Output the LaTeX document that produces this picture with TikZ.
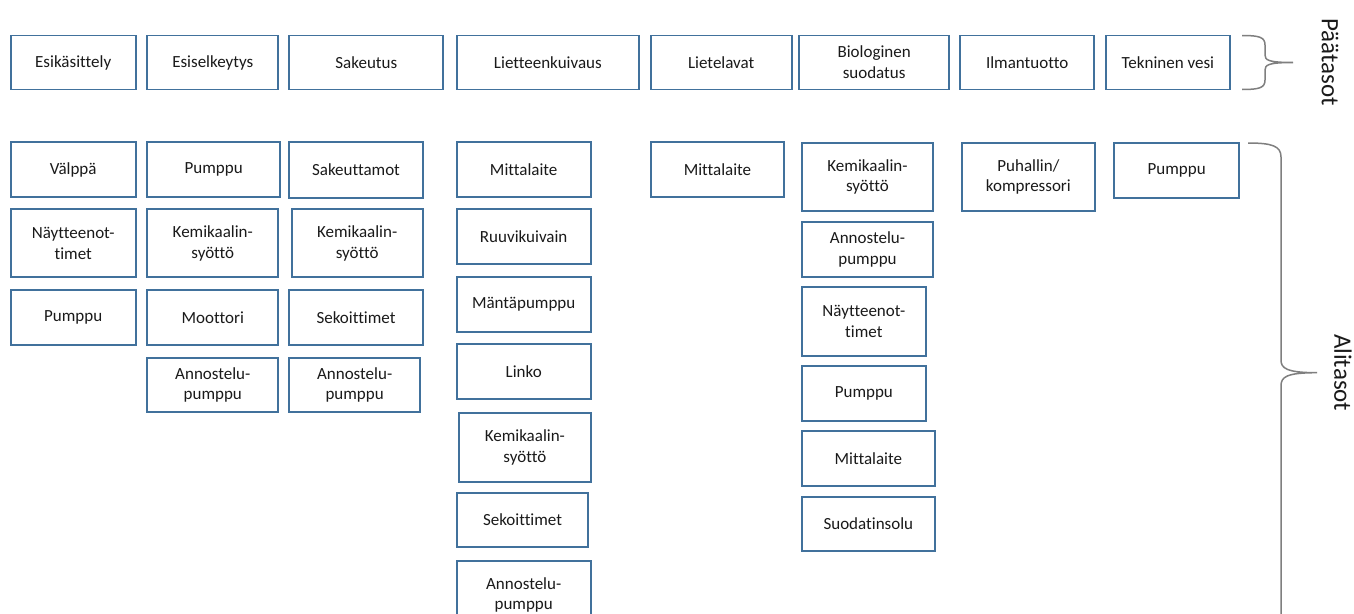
\documentclass[tikz,border=0pt]{standalone}
\usepackage{fontspec}
\setmainfont{Carlito}[Ligatures={NoCommon}]
\definecolor{boxline}{HTML}{41719C}
\definecolor{txt}{HTML}{1A1A1A}
\definecolor{bracegray}{HTML}{7F7F7F}
\tikzset{
  box/.style={draw=boxline, line width=1.8pt, fill=white, rectangle,
    inner sep=0pt, outer sep=0pt, align=center, text=txt,
    font=\fontsize{17}{20.7}\selectfont},
  bracepath/.style={draw=bracegray, line width=1.5pt},
  sidelabel/.style={text=txt, font=\fontsize{25}{30}\selectfont, rotate=-90, inner sep=0pt}
}
% \bx{name}{left}{top}{right}{bottom}{text}
\newcommand\bx[6]{%
  \node[box, minimum width={#4pt-#2pt}, minimum height={#5pt-#3pt}]
    (#1) at ({(#2+#4)/2},{(#3+#5)/2}) {#6};}
\begin{document}
\begin{tikzpicture}[x=1pt, y=-1pt]
\useasboundingbox (0,0) rectangle (1354,613);
\fill[white] (0,0) rectangle (1354,613);
\clip (0,0) rectangle (1354,613);

% main levels
\bx{esik}{10.7}{35.5}{135.7}{89.5}{Esikäsittely}
\bx{esis}{147.3}{35.5}{278.3}{89.5}{Esiselkeytys}
\bx{sake}{289.3}{35.5}{443.3}{89.5}{Sakeutus}
\bx{liet}{456.7}{35.5}{639}{89.5}{Lietteenkuivaus}
\bx{lava}{650.7}{35.5}{791.7}{89.5}{Lietelavat}
\bx{bios}{799.3}{35.5}{949}{89.5}{Biologinen\\suodatus}
\bx{ilma}{960}{35.5}{1094.3}{89.5}{Ilmantuotto}
\bx{tekn}{1105.7}{35.5}{1230}{89.5}{Tekninen vesi}

% Esikäsittely
\bx{a1}{10.7}{142.3}{135.7}{196.7}{Välppä}
\bx{a2}{10.7}{209.3}{135.7}{277.3}{Näytteenot-\\timet}
\bx{a3}{10.7}{290}{135.7}{345}{Pumppu}

% Esiselkeytys
\bx{b1}{147.3}{142.3}{280}{197}{Pumppu}
\bx{b2}{147.3}{209.3}{278.3}{277.3}{Kemikaalin-\\syöttö}
\bx{b3}{147.3}{290}{278.3}{345}{Moottori}
\bx{b4}{147.3}{357.7}{278.3}{412.3}{Annostelu-\\pumppu}

% Sakeutus
\bx{c1}{289.3}{142.3}{422.7}{197.7}{Sakeuttamot}
\bx{c2}{291.7}{209.3}{422.7}{277.3}{Kemikaalin-\\syöttö}
\bx{c3}{289.3}{290}{422.7}{345}{Sekoittimet}
\bx{c4}{289.3}{357.7}{420}{412.3}{Annostelu-\\pumppu}

% Lietteenkuivaus
\bx{d1}{456.7}{142.3}{590.7}{196.7}{Mittalaite}
\bx{d2}{456.7}{209.3}{590.7}{264.3}{Ruuvikuivain}
\bx{d3}{456.7}{276.7}{590.7}{331.7}{Mäntäpumppu}
\bx{d4}{456.7}{344.3}{590.7}{399.3}{Linko}
\bx{d5}{459}{413.3}{590.7}{481.7}{Kemikaalin-\\syöttö}
\bx{d6}{456.7}{493.3}{588.3}{546.7}{Sekoittimet}
\bx{d7}{456.7}{560.7}{590.7}{629}{Annostelu-\\pumppu}

% Lietelavat
\bx{e1}{650.7}{142.3}{784.3}{197.3}{Mittalaite}

% Biologinen suodatus
\bx{f1}{801.7}{142.7}{933.3}{211}{Kemikaalin-\\syöttö}
\bx{f2}{801.7}{221.7}{933.3}{276.7}{Annostelu-\\pumppu}
\bx{f3}{801.7}{287.3}{926}{355.7}{Näytteenot-\\timet}
\bx{f4}{801.7}{366}{926}{420.7}{Pumppu}
\bx{f5}{801.7}{431}{935}{486}{Mittalaite}
\bx{f6}{801.7}{496.7}{935}{551.3}{Suodatinsolu}

% Ilmantuotto and Tekninen vesi
\bx{g1}{961.7}{142.7}{1095}{211}{Puhallin/\\kompressori}
\bx{h1}{1114}{142.7}{1239.3}{198.3}{Pumppu}

% brace over the main levels
\coordinate (pt) at (1242,35.5);
\coordinate (pm) at (1293,62.5);
\coordinate (pb) at (1242,89.5);
\draw[bracepath] (pt) .. controls (1259,35.5) and (1265,37) .. (1265,45)
  -- (1265,55) .. controls (1265,60) and (1268,62.5) .. (pm)
  .. controls (1268,62.5) and (1265,65) .. (1265,70)
  -- (1265,80) .. controls (1265,88) and (1259,89.5) .. (pb);
\node[sidelabel] (paa) at (1330,62) {Päätasot};

% brace over the sub levels
\coordinate (at) at (1248,143);
\coordinate (am) at (1317,372.7);
\coordinate (ab) at (1281,625);
\draw[bracepath] (at) .. controls (1272,143) and (1281,146) .. (1281,157)
  -- (1281,360) .. controls (1281,368) and (1286,372.7) .. (am)
  .. controls (1286,372.7) and (1281,377) .. (1281,386)
  -- (ab);
\node[sidelabel] (ali) at (1343,372.7) {Alitasot};
\end{tikzpicture}
\end{document}
